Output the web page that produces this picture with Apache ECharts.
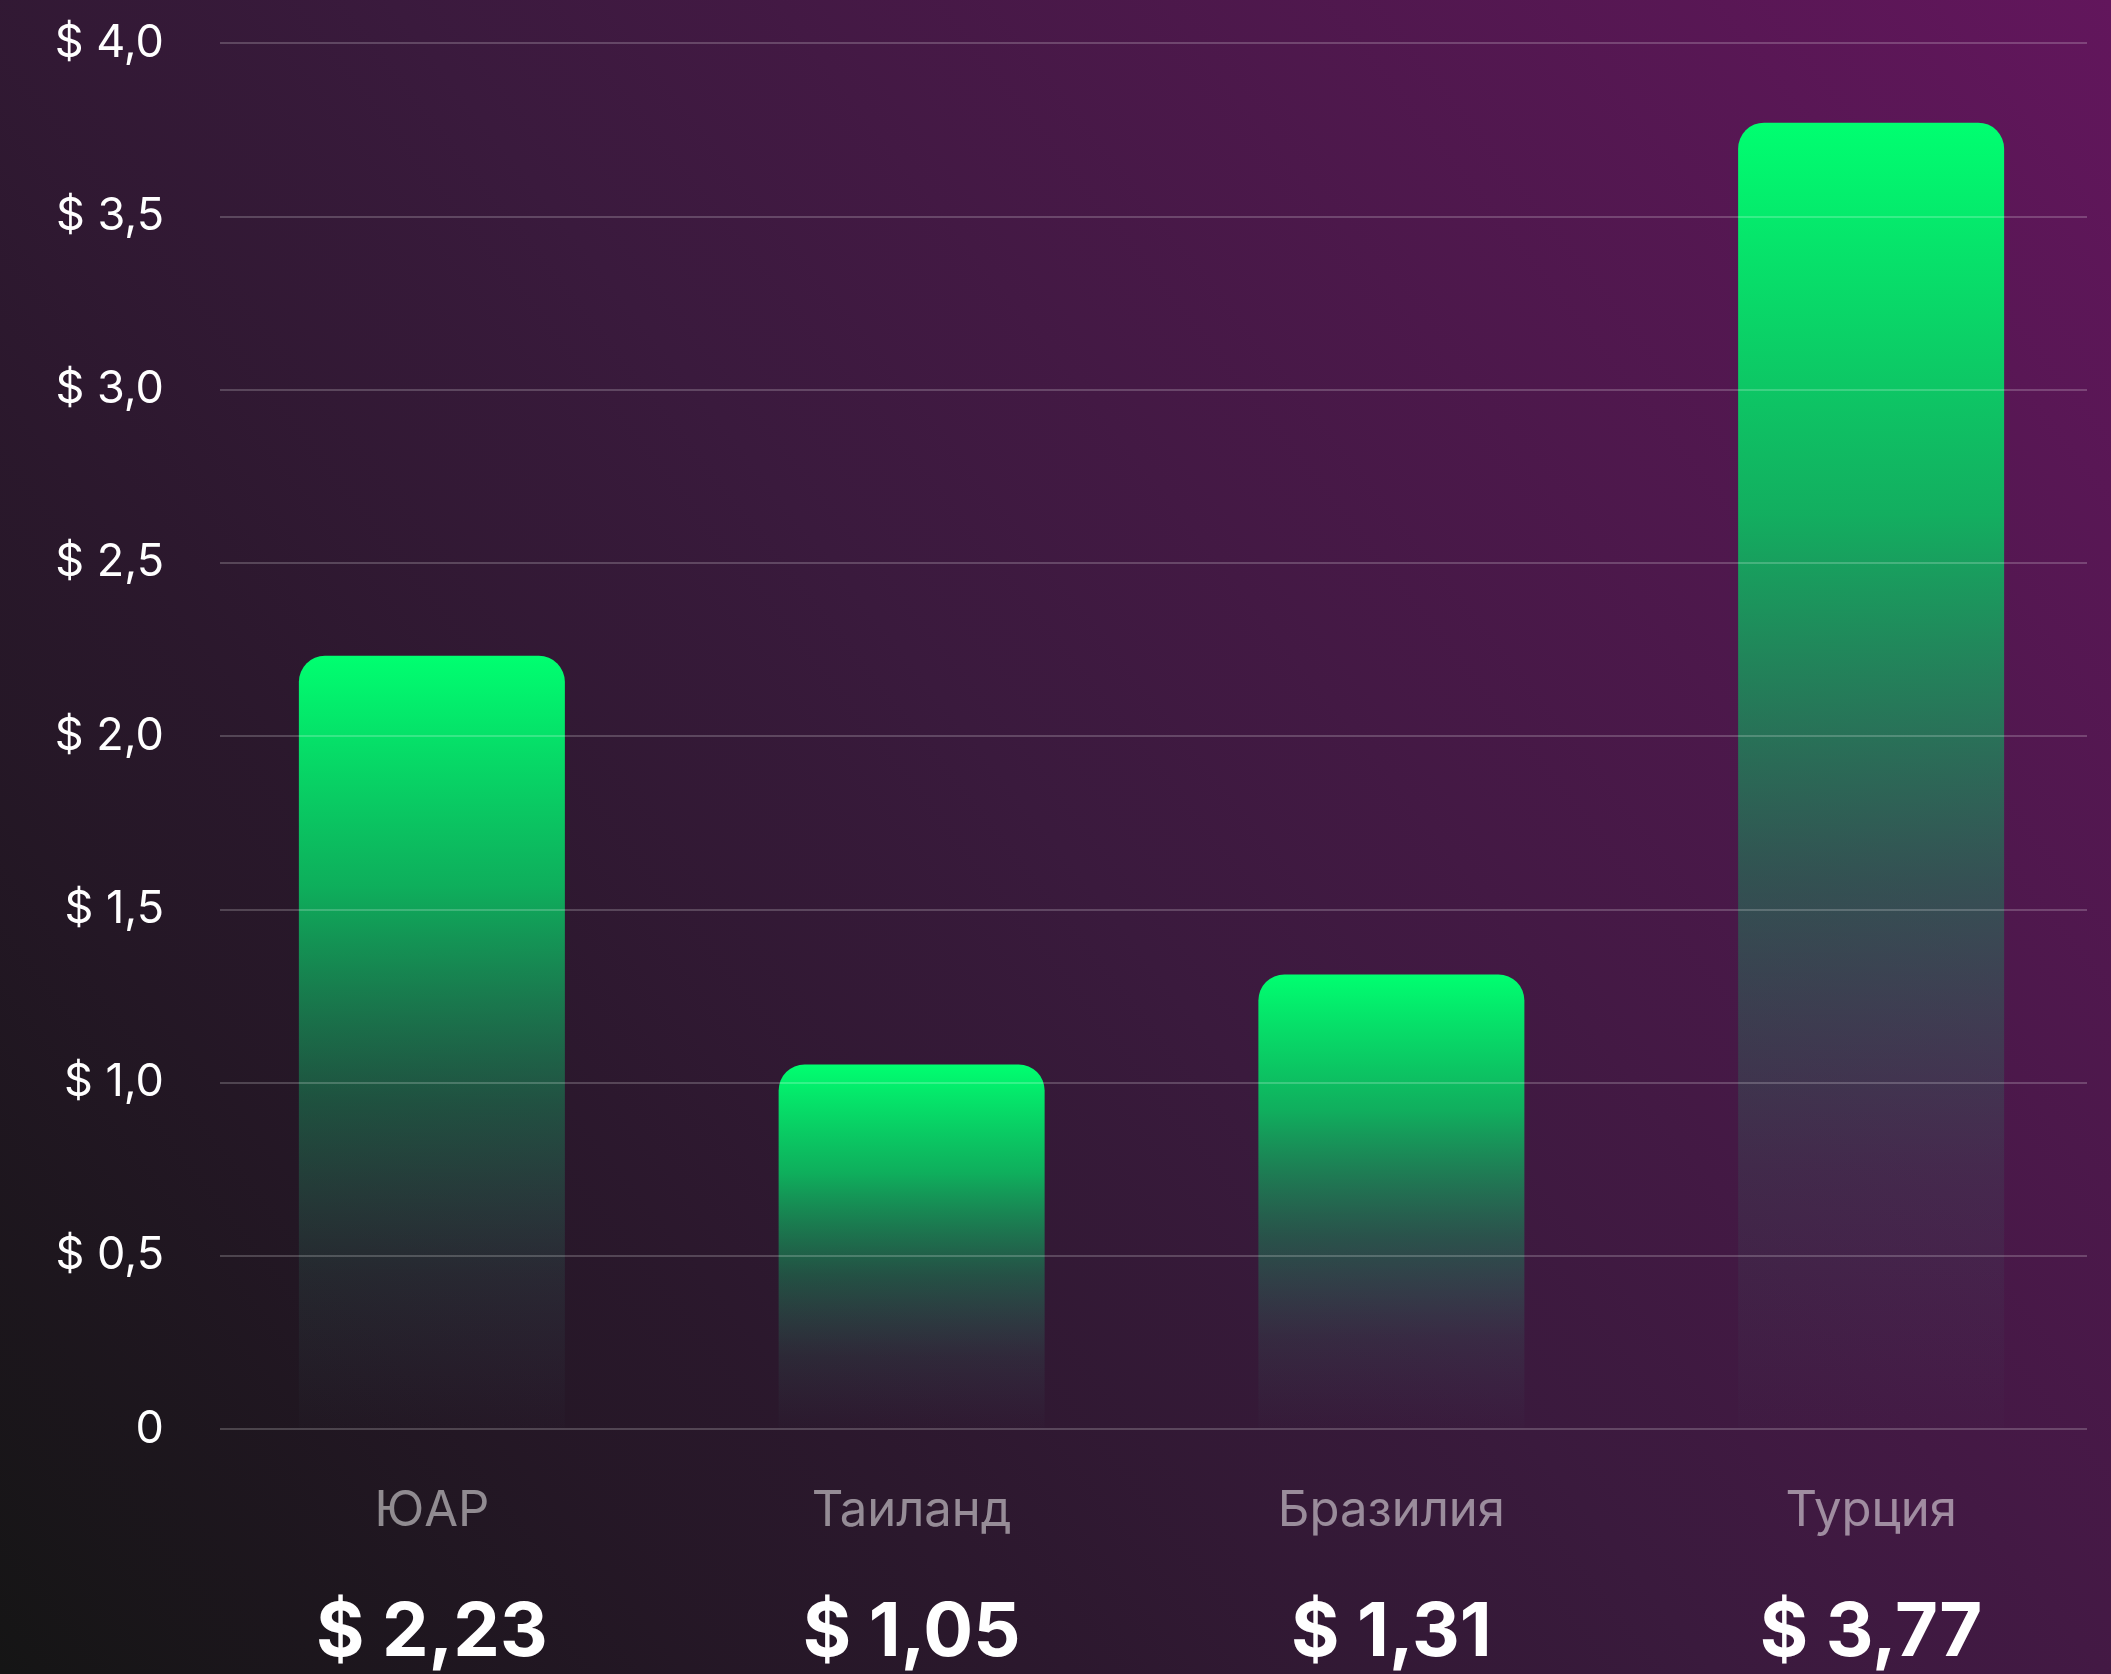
<!DOCTYPE html>
<html>
<head>
<meta charset="utf-8">
<title>Цена</title>
<script src="https://cdn.jsdelivr.net/npm/echarts@6/dist/echarts.min.js"></script>
<style>
    html, body { margin: 0; padding: 0; }
    #chart { width: 2111px; height: 1674px; }
</style>
</head>
<body>
<div id="chart"></div>
<script>
// страны и значения
var countries = ['ЮАР', 'Таиланд', 'Бразилия', 'Турция'];
var prices = [2.23, 1.05, 1.31, 3.77];
var yMin = 0;
var yMax = 4;
var yStep = 0.5;

function money(v, digits) {
    if (v === 0) return '0';
    return '$ ' + v.toFixed(digits).replace('.', ',');
}

var barFill = new echarts.graphic.LinearGradient(0, 0, 0, 1, [
    { offset: 0, color: 'rgba(0,255,112,1)' },
    { offset: 0.3, color: 'rgba(10,195,98,0.88)' },
    { offset: 0.58, color: 'rgba(22,150,92,0.45)' },
    { offset: 0.8, color: 'rgba(50,130,105,0.16)' },
    { offset: 1, color: 'rgba(70,100,110,0.02)' }
]);

var chart = echarts.init(document.getElementById('chart'));
chart.setOption({
    backgroundColor: new echarts.graphic.LinearGradient(0, 1, 1, 0, [
        { offset: 0, color: '#151515' },
        { offset: 0.5, color: '#3a1a3d' },
        { offset: 1, color: '#62165c' }
    ]),
    textStyle: { fontFamily: 'Inter' },
    animation: false,
    grid: [
        // бары
        { left: 192, right: -2, top: 43, bottom: 245 },
        // сетка
        { left: 220, right: 24, top: 43, bottom: 245 }
    ],
    xAxis: [
        {
            type: 'category', gridIndex: 0, data: countries,
            axisLine: { show: false }, axisTick: { show: false },
            axisLabel: {
                margin: 54, fontSize: 49, lineHeight: 58,
                color: 'rgba(255,255,255,0.5)'
            }
        },
        {
            type: 'category', gridIndex: 0, position: 'bottom', data: countries,
            axisLine: { show: false }, axisTick: { show: false },
            axisLabel: {
                margin: 166, fontSize: 74, lineHeight: 80, fontWeight: 700,
                color: '#ffffff',
                formatter: function (name, idx) { return money(prices[idx], 2); }
            }
        },
        { type: 'value', gridIndex: 1, show: false }
    ],
    yAxis: [
        { type: 'value', gridIndex: 0, min: yMin, max: yMax, interval: yStep, show: false },
        {
            type: 'value', gridIndex: 1, min: yMin, max: yMax, interval: yStep, z: 5,
            axisLine: { show: false }, axisTick: { show: false },
            axisLabel: {
                margin: 56, fontSize: 45, color: '#ffffff',
                formatter: function (v) { return money(v, 1); }
            },
            splitLine: { lineStyle: { color: 'rgba(255,255,255,0.2)', width: 2 } }
        }
    ],
    series: [{
        type: 'bar',
        xAxisIndex: 0,
        yAxisIndex: 0,
        data: prices,
        barWidth: 266,
        itemStyle: { color: barFill, borderRadius: [26, 26, 0, 0] }
    }]
});
</script>
</body>
</html>
